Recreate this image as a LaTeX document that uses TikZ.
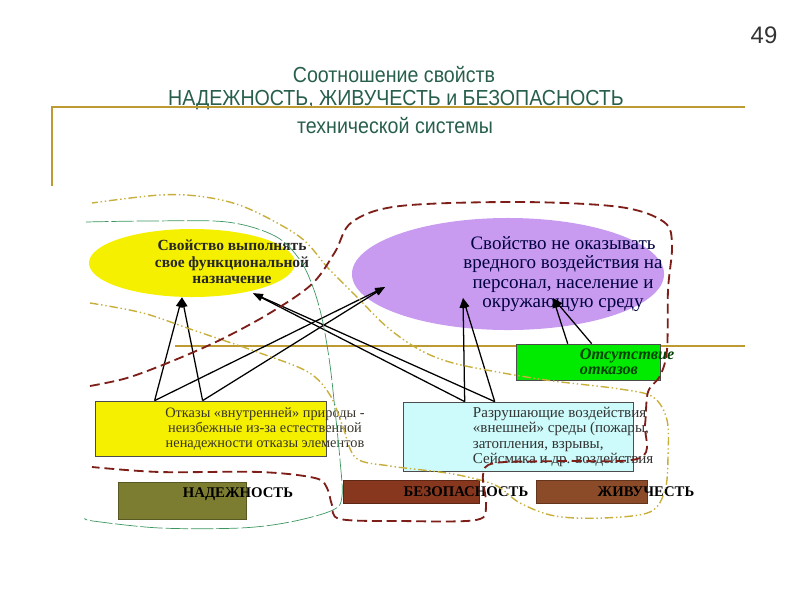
\documentclass[tikz,border=0pt]{standalone}
\usepackage{fontspec}
\setmainfont{Liberation Serif}
\newfontfamily\titlefont[FakeStretch=0.9]{Liberation Sans}
\newfontfamily\numfont{Liberation Sans}
\usetikzlibrary{arrows.meta, positioning, shapes.geometric, calc}

\definecolor{titlegreen}{RGB}{40,95,75}
\definecolor{goldline}{RGB}{190,155,50}
\definecolor{funcyellow}{RGB}{245,240,0}
\definecolor{harmviolet}{RGB}{200,155,240}
\definecolor{nofailgreen}{RGB}{0,235,0}
\definecolor{extcyan}{RGB}{205,250,250}
\definecolor{relolive}{RGB}{125,125,50}
\definecolor{safbrown}{RGB}{135,55,30}
\definecolor{survbrown}{RGB}{140,75,40}
\definecolor{safred}{RGB}{125,30,25}
\definecolor{relgreen}{RGB}{60,150,95}
\definecolor{survgold}{RGB}{200,175,60}

\begin{document}
\begin{tikzpicture}[x=0.025cm, y=-0.025cm,
    titletext/.style={text=titlegreen, font=\titlefont\fontsize{15.5}{18}\selectfont, inner sep=0pt},
    propell/.style={ellipse, inner sep=0pt},
    boxnode/.style={draw=black!70, rectangle, inner sep=0pt},
    labeltext/.style={font=\bfseries\fontsize{10.5}{12}\selectfont, inner sep=0pt},
    arr/.style={line width=0.9pt, -{Triangle[length=7pt,width=5pt]}},
    safloop/.style={safred, line width=1.3pt, dash pattern=on 7pt off 3.5pt},
    relloop/.style={relgreen, line width=0.5pt, dash pattern=on 16pt off 2pt},
    survloop/.style={survgold, line width=1pt, dash pattern=on 6pt off 2pt on 1pt off 2pt on 1pt off 2pt}
]
\useasboundingbox (0,0) rectangle (800,600);

% Heading
\node[font=\numfont\fontsize{17}{20}\selectfont, text=black!80] (pagenum) at (764,35) {49};
\node[titletext, anchor=base] (title1) at (394,82) {Соотношение свойств};
\node[titletext, anchor=base] (title2) at (396,105) {НАДЕЖНОСТЬ, ЖИВУЧЕСТЬ и БЕЗОПАСНОСТЬ};
\node[titletext, anchor=base] (title3) at (395,133) {технической системы};
\draw[goldline, line width=1.2pt] (52,186) -- (52,107) -- (745,107);
\draw[goldline, line width=1.2pt] (175,346) -- (745,346);

% Properties
\node[propell, fill=funcyellow, minimum width=5.15cm, minimum height=1.7cm] (funcell) at (192,263) {};
\node[font=\bfseries\fontsize{11}{11.8}\selectfont, align=center, text=black!85] (functext) at (232,262)
    {Свойство выполнять\\свое функциональной\\назначение};
\node[propell, fill=harmviolet, minimum width=7.8cm, minimum height=2.8cm] (harmell) at (508,274) {};
\node[font=\fontsize{13.5}{13.9}\selectfont, align=center, text=black!75!blue] (harmtext) at (563,274)
    {Свойство не оказывать\\вредного воздействия на\\персонал, население и\\окружающую среду};

% Causes
\node[boxnode, fill=nofailgreen, minimum width=3.6cm, minimum height=0.9cm] (nofailbox) at (588,362) {};
\node[font=\bfseries\itshape\fontsize{11.5}{10.8}\selectfont, align=left, anchor=west, text=black!75!green] (nofailtext) at (575,362)
    {Отсутствие\\отказов};
\node[boxnode, fill=funcyellow, minimum width=5.78cm, minimum height=1.38cm] (intbox) at (210.5,428.5) {};
\node[font=\fontsize{10.2}{10.5}\selectfont, align=center, text=black!80!olive] (inttext) at (265,429)
    {Отказы «внутренней» природы -\\неизбежные из-за естественной\\ненадежности отказы элементов};
\node[boxnode, fill=extcyan, minimum width=5.75cm, minimum height=1.73cm] (extbox) at (518,436.5) {};
\node[font=\fontsize{10.7}{10.9}\selectfont, align=left, anchor=west, text=black!80] (exttext) at (468,437)
    {Разрушающие воздействия\\«внешней» среды (пожары,\\затопления, взрывы,\\Сейсмика и др. воздействия};

% Property labels
\node[boxnode, draw=relolive!70!black, fill=relolive, minimum width=3.2cm, minimum height=0.93cm] (relbox) at (182,500.5) {};
\node[labeltext] (reltext) at (238,494) {НАДЕЖНОСТЬ};
\node[boxnode, draw=safbrown!70!black, fill=safbrown, minimum width=3.4cm, minimum height=0.58cm] (safbox) at (411,491.5) {};
\node[labeltext] (saftext) at (466,492) {БЕЗОПАСНОСТЬ};
\node[boxnode, draw=survbrown!70!black, fill=survbrown, minimum width=2.78cm, minimum height=0.58cm] (survbox) at (591.5,491.5) {};
\node[labeltext] (survtext) at (646,492) {ЖИВУЧЕСТЬ};

% Arrow ends
\coordinate (int1) at ([xshift=1.5cm]intbox.north west);
\coordinate (int2) at ([xshift=2.7cm]intbox.north west);
\coordinate (ext1) at ([xshift=1.55cm]extbox.north west);
\coordinate (ext2) at ([xshift=2.3cm]extbox.north west);
\coordinate (nofail1) at ([xshift=1.3cm]nofailbox.north west);
\coordinate (nofail2) at ([xshift=1.9cm]nofailbox.north west);
\coordinate (funcin1) at ([xshift=-0.25cm]funcell.south);
\coordinate (funcin2) at ($(funcell.south)+(61,-4)$);
\coordinate (harmin1) at ($(harmell.center)+(-123,13)$);
\coordinate (harmin2) at ($(harmell.center)+(-45,24)$);
\coordinate (harmin3) at ($(harmell.center)+(45,24)$);

\foreach \s in {int1,int2} {
    \draw[arr] (\s) -- (funcin1);
    \draw[arr] (\s) -- (harmin1);
}
\foreach \s in {ext1,ext2} {
    \draw[arr] (\s) -- (harmin2);
    \draw[arr] (\s) -- (funcin2);
}
\foreach \s in {nofail1,nofail2}
    \draw[arr] (\s) -- (harmin3);

% Property contours
\draw[survloop] plot[smooth, tension=0.55] coordinates {(90,303) (143,313) (193,330) (260,353) (308,372)
    (330,395) (343,427) (356,458) (390,466) (453,474) (495,485) (520,503) (555,516) (603,518) (650,512)
    (665,490) (668,457) (667,420) (653,397) (620,389) (553,381) (503,373) (453,363) (420,350) (387,327)
    (355,295) (328,268) (300,237) (247,208) (205,197) (160,195) (92,203)};
\draw[relloop] plot[smooth, tension=0.55] coordinates {(86,222) (150,221) (227,222) (275,236) (300,260)
    (314,290) (323,323) (330,365) (335,410) (340,460) (342,496) (333,510) (290,522) (240,528) (160,528)
    (93,521) (85,518)};
\draw[safloop] plot[smooth, tension=0.55] coordinates {(90,386) (127,378) (170,362) (220,340) (270,313)
    (312,284) (335,252) (352,222) (400,206) (520,202) (620,207) (664,222) (672,245) (668,290) (667,350)
    (660,376) (648,392) (645,425) (640,458) (560,461) (495,463) (483,475) (486,505) (476,520) (400,521)
    (340,519) (332,505) (327,488) (315,478) (260,472) (160,472) (92,467)};
\end{tikzpicture}
\end{document}
